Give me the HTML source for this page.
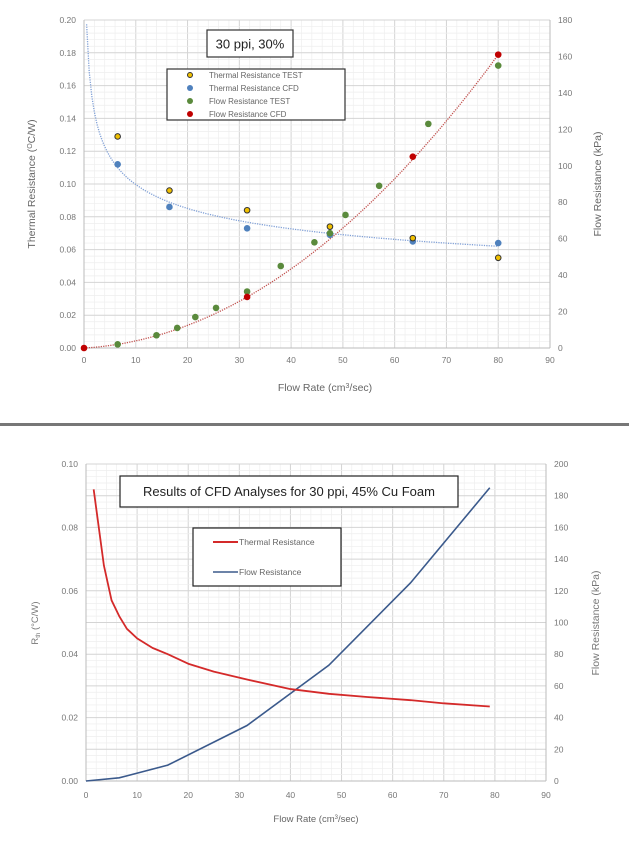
<!DOCTYPE html>
<html><head><meta charset="utf-8">
<style>
html,body{margin:0;padding:0;background:#fff;}
svg{display:block;font-family:"Liberation Sans",sans-serif;}
</style></head>
<body>
<svg id="s" width="629" height="847" viewBox="0 0 629 847" xmlns="http://www.w3.org/2000/svg"></svg>
<script>
const s=document.getElementById('s');let h='';
function grid(x0,x1,y0,y1,nx,nmx,ny,nmy){
 let g='';
 for(let i=0;i<=nx*nmx;i++){const x=x0+(x1-x0)*i/(nx*nmx);g+=`<line x1="${x}" y1="${y0}" x2="${x}" y2="${y1}" stroke="${i%nmx?'#eeeeee':'#d4d4d4'}" stroke-width="${i%nmx?0.7:1}"/>`;}
 for(let i=0;i<=ny*nmy;i++){const y=y0+(y1-y0)*i/(ny*nmy);g+=`<line x1="${x0}" y1="${y}" x2="${x1}" y2="${y}" stroke="${i%nmy?'#eeeeee':'#d4d4d4'}" stroke-width="${i%nmy?0.7:1}"/>`;}
 g+=`<line x1="${x0}" y1="${y0}" x2="${x0}" y2="${y1}" stroke="#bbb"/><line x1="${x1}" y1="${y0}" x2="${x1}" y2="${y1}" stroke="#bbb"/><line x1="${x0}" y1="${y1}" x2="${x1}" y2="${y1}" stroke="#bbb"/>`;
 return g;}
// ---------- top chart
const X0=84,X1=550,YT=20,YB=348;
const tx=v=>X0+v*(X1-X0)/90, ty=r=>YB-r*(YB-YT)/0.2, tk=k=>YB-k*(YB-YT)/180;
h+=grid(X0,X1,YT,YB,9,5,10,5);
for(let i=0;i<=10;i++){h+=`<text x="${X0-8}" y="${ty(i*0.02)+3}" font-size="8.5" fill="#777" text-anchor="end">${(i*0.02).toFixed(2)}</text>`;}
for(let i=0;i<=9;i++){h+=`<text x="${tx(i*10)}" y="${YB+15}" font-size="8.5" fill="#777" text-anchor="middle">${i*10}</text>`;
 h+=`<text x="${X1+8}" y="${tk(i*20)+3}" font-size="8.5" fill="#777">${i*20}</text>`;}
h+=`<text transform="translate(35,184) rotate(-90)" font-size="10.5" fill="#666" text-anchor="middle">Thermal Resistance (<tspan font-size="7" dy="-3">O</tspan><tspan dy="3">C/W)</tspan></text>`;
h+=`<text transform="translate(601,184) rotate(-90)" font-size="10.5" fill="#666" text-anchor="middle">Flow Resistance (kPa)</text>`;
h+=`<text x="325" y="391" font-size="10.5" fill="#666" text-anchor="middle">Flow Rate (cm<tspan font-size="7" dy="-3">3</tspan><tspan dy="3">/sec)</tspan></text>`;
let p='';for(let x=0.5;x<=80;x+=0.5){p+=(p?'L':'M')+tx(x).toFixed(1)+','+ty(0.1685*Math.pow(x,-0.228)).toFixed(1);}
h+=`<path d="${p}" fill="none" stroke="#7f9fd6" stroke-width="1.3" stroke-dasharray="1.2,1.2"/>`;
p='';for(let x=0;x<=80;x+=0.5){p+=(p?'L':'M')+tx(x).toFixed(1)+','+tk(0.02316*x*x+0.159*x).toFixed(1);}
h+=`<path d="${p}" fill="none" stroke="#c0504d" stroke-width="1.3" stroke-dasharray="1.2,1.2"/>`;
const tt=[[6.5,.129],[16.5,.096],[31.5,.084],[47.5,.074],[63.5,.067],[80,.055]];
const tc=[[6.5,.112],[16.5,.086],[31.5,.073],[47.5,.069],[63.5,.065],[80,.064]];
const ft=[[6.5,2],[14,7],[18,11],[21.5,17],[25.5,22],[31.5,31],[38,45],[44.5,58],[50.5,73],[57,89],[66.5,123],[80,155],[47.5,63]];
const fc=[[0,0],[31.5,28],[63.5,105],[80,161]];
tc.forEach(d=>h+=`<circle cx="${tx(d[0])}" cy="${ty(d[1])}" r="3.3" fill="#4f81bd"/>`);
ft.forEach(d=>h+=`<circle cx="${tx(d[0])}" cy="${tk(d[1])}" r="3.3" fill="#5a8a3c"/>`);
fc.forEach(d=>h+=`<circle cx="${tx(d[0])}" cy="${tk(d[1])}" r="3.3" fill="#c00000"/>`);
tt.forEach(d=>h+=`<circle cx="${tx(d[0])}" cy="${ty(d[1])}" r="2.8" fill="#f0c000" stroke="#333" stroke-width="1"/>`);
h+=`<rect x="207" y="30" width="86" height="27" fill="#fff" stroke="#333" stroke-width="1.2"/><text x="250" y="48.5" font-size="13" fill="#222" text-anchor="middle">30 ppi, 30%</text>`;
h+=`<rect x="167" y="69" width="178" height="51" fill="#fff" stroke="#333" stroke-width="1.2"/>`;
const lg=[['Thermal Resistance TEST','#f0c000',1],['Thermal Resistance CFD','#4f81bd',0],['Flow Resistance TEST','#5a8a3c',0],['Flow Resistance CFD','#c00000',0]];
lg.forEach((l,i)=>{const y=75+i*13;h+=l[2]?`<circle cx="190" cy="${y}" r="2.5" fill="${l[1]}" stroke="#333"/>`:`<circle cx="190" cy="${y}" r="3" fill="${l[1]}"/>`;
 h+=`<text x="209" y="${y+3}" font-size="8" fill="#666">${l[0]}</text>`;});
h+=`<rect x="0" y="423" width="629" height="3" fill="#777"/>`;
// ---------- bottom chart
const B0=86,B1=546,BT=464,BB=781;
const bx=v=>B0+v*(B1-B0)/90, by=r=>BB-r*(BB-BT)/0.1, bk=k=>BB-k*(BB-BT)/200;
h+=grid(B0,B1,BT,BB,9,5,10,5);
for(let i=0;i<=5;i++){h+=`<text x="${B0-8}" y="${by(i*0.02)+3}" font-size="8.5" fill="#777" text-anchor="end">${(i*0.02).toFixed(2)}</text>`;}
for(let i=0;i<=10;i++){h+=`<text x="${B1+8}" y="${bk(i*20)+3}" font-size="8.5" fill="#777">${i*20}</text>`;}
for(let i=0;i<=9;i++){h+=`<text x="${bx(i*10)}" y="${BB+17}" font-size="8.5" fill="#777" text-anchor="middle">${i*10}</text>`;}
h+=`<text transform="translate(38,623) rotate(-90)" font-size="9.5" fill="#777" text-anchor="middle">R<tspan font-size="6" dy="2">th</tspan><tspan dy="-2"> (°C/W)</tspan></text>`;
h+=`<text transform="translate(599,623) rotate(-90)" font-size="10.5" fill="#777" text-anchor="middle">Flow  Resistance (kPa)</text>`;
h+=`<text x="316" y="822" font-size="9.5" fill="#666" text-anchor="middle">Flow Rate (cm<tspan font-size="6" dy="-3">3</tspan><tspan dy="3">/sec)</tspan></text>`;
const rt=[[1.5,.092],[2.5,.08],[3.5,.068],[5,.057],[6.5,.052],[8,.048],[10,.045],[13,.042],[16,.040],[20,.037],[25,.0345],[31.5,.032],[40,.029],[47.5,.0275],[55,.0265],[63.5,.0255],[70,.0245],[79,.0235]];
const fr=[[0,0],[6.5,2],[16,10],[31.5,35],[47.5,73],[63.5,125],[79,185]];
h+=`<polyline points="${fr.map(d=>bx(d[0])+','+bk(d[1])).join(' ')}" fill="none" stroke="#3b5a8c" stroke-width="1.6"/>`;
h+=`<polyline points="${rt.map(d=>bx(d[0])+','+by(d[1])).join(' ')}" fill="none" stroke="#d42a2a" stroke-width="1.8" stroke-linejoin="round"/>`;
h+=`<rect x="120" y="476" width="338" height="31" fill="#fff" stroke="#222" stroke-width="1.2"/><text x="289" y="496" font-size="13" fill="#222" text-anchor="middle">Results of CFD Analyses for 30 ppi, 45% Cu Foam</text>`;
h+=`<rect x="193" y="528" width="148" height="58" fill="#fff" stroke="#222" stroke-width="1.2"/>`;
h+=`<line x1="213" y1="542" x2="238" y2="542" stroke="#d42a2a" stroke-width="2"/><text x="239" y="545" font-size="8.5" fill="#666">Thermal Resistance</text>`;
h+=`<line x1="213" y1="572" x2="238" y2="572" stroke="#3b5a8c" stroke-width="1.5"/><text x="239" y="575" font-size="8.5" fill="#666">Flow Resistance</text>`;
s.innerHTML=h;
</script>
</body></html>
